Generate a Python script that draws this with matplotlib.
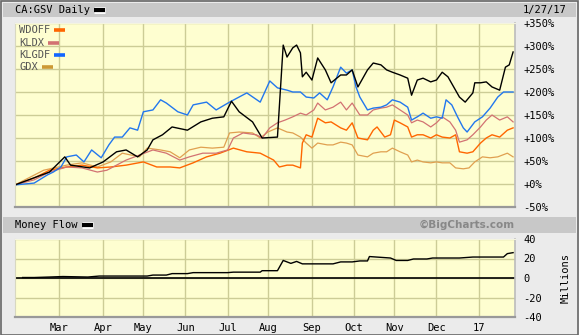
import matplotlib
matplotlib.use('Agg')
import matplotlib.pyplot as plt
import matplotlib.patheffects as pe
import pandas as pd
from matplotlib.lines import Line2D
from matplotlib.patches import Rectangle

# trading sessions shown on the chart
sessions = pd.bdate_range('2016-01-28', '2017-01-27')

# CA:GSV (main symbol), % change
gsv_day = [0, 18, 26, 29, 39, 46, 53, 58, 64, 69, 72, 77, 82, 90, 97, 103, 109, 113, 117, 124,
           129, 137, 140, 142, 145, 147, 149, 150, 152, 155, 158, 162, 165, 170, 173, 176, 179,
           184, 187, 191, 194, 197, 201, 205, 207, 210, 213, 217, 220, 223, 226, 229, 232, 235,
           239, 240, 243, 246, 249, 253, 256, 258, 260]
gsv_pct = [-2, 26, 59, 41, 35, 48, 70, 74, 59, 74, 96, 107, 124, 117, 135, 143, 146, 180, 157, 135,
           100, 102, 302, 276, 296, 302, 285, 233, 243, 226, 274, 248, 220, 237, 237, 248, 211,
           248, 263, 259, 248, 243, 237, 230, 193, 226, 230, 222, 226, 243, 233, 211, 189, 178,
           198, 220, 220, 222, 211, 204, 254, 259, 287]

klgdf_day = [0, 10, 17, 20, 24, 27, 32, 36, 40, 45, 49, 52, 56, 60, 64, 67, 72, 76, 79, 85, 90, 93,
             100, 105, 112, 121, 128, 133, 137, 142, 145, 149, 152, 156, 159, 163, 166, 170, 173,
             176, 178, 180, 184, 187, 191, 194, 197, 201, 205, 207, 210, 213, 217, 220, 223, 225,
             228, 231, 234, 236, 240, 244, 248, 252, 255, 260]
klgdf_pct = [-2, 2, 20, 26, 37, 59, 63, 48, 74, 57, 85, 102, 102, 122, 117, 157, 161, 183, 176, 157,
             150, 172, 178, 161, 178, 198, 178, 224, 209, 204, 200, 200, 189, 187, 198, 183, 211,
             254, 241, 248, 211, 189, 161, 165, 167, 172, 183, 178, 167, 139, 146, 154, 143, 146,
             143, 183, 172, 146, 122, 113, 135, 146, 165, 189, 200, 200]

kldx_day = [0, 10, 18, 27, 35, 43, 48, 53, 58, 65, 72, 79, 86, 91, 98, 105, 111, 114, 119, 126,
            129, 133, 137, 141, 145, 149, 152, 156, 158, 162, 166, 170, 173, 176, 180, 184, 187,
            191, 194, 197, 201, 205, 207, 210, 213, 217, 220, 223, 227, 230, 232, 236, 239, 243,
            246, 249, 253, 257, 260]
kldx_pct = [-2, 9, 26, 37, 35, 26, 30, 41, 52, 63, 74, 67, 52, 59, 67, 67, 74, 100, 111, 107,
            100, 122, 133, 139, 146, 154, 150, 161, 176, 161, 167, 178, 161, 176, 150, 150, 161,
            165, 167, 172, 161, 150, 133, 139, 135, 124, 133, 146, 135, 117, 91, 96, 107, 124,
            139, 150, 139, 146, 135]

wdoff_day = [0, 10, 18, 27, 35, 43, 50, 58, 67, 74, 81, 86, 93, 100, 107, 114, 121, 128, 135, 138,
             142, 145, 149, 150, 152, 155, 158, 162, 165, 170, 173, 176, 179, 184, 187, 189, 193,
             196, 198, 201, 205, 207, 210, 213, 217, 220, 223, 227, 230, 232, 236, 239, 243, 246,
             249, 253, 257, 260]
wdoff_pct = [-2, 13, 30, 37, 41, 35, 37, 41, 48, 37, 37, 35, 46, 59, 67, 78, 70, 67, 52, 37,
             41, 41, 35, 89, 107, 102, 143, 133, 135, 122, 117, 133, 100, 96, 117, 124, 102,
             107, 139, 133, 124, 102, 107, 107, 100, 107, 102, 100, 107, 70, 67, 70, 89, 100,
             107, 102, 117, 122]

gdx_day = [0, 15, 27, 35, 43, 50, 56, 65, 69, 76, 81, 86, 91, 97, 103, 109, 112, 117, 124, 128,
           132, 137, 142, 145, 149, 152, 155, 158, 163, 166, 170, 173, 176, 179, 184, 187, 191,
           194, 197, 201, 205, 207, 210, 213, 217, 220, 223, 227, 230, 234, 237, 240, 244, 248,
           252, 257, 260]
gdx_pct = [-2, 30, 41, 46, 37, 48, 67, 59, 78, 74, 70, 57, 74, 80, 78, 80, 111, 113, 111, 100,
           113, 122, 113, 111, 102, 89, 78, 89, 85, 85, 91, 89, 85, 63, 59, 67, 70,
           70, 78, 70, 63, 48, 52, 48, 46, 48, 46, 46, 35, 33, 35, 48, 59, 57,
           59, 67, 59]

# money flow, millions
mf_day = [4, 10, 18, 25, 38, 44, 69, 72, 79, 82, 90, 93, 111, 114, 128, 129, 137, 140, 144, 147,
          150, 166, 170, 176, 180, 184, 185, 196, 199, 205, 208, 215, 218, 232, 239, 255, 257, 260]
mf_val = [0.5, 0.5, 1, 1.5, 1, 2, 2, 3, 3, 4.5, 4.5, 5.5, 5.5, 6, 6, 7.5, 7.5, 18, 15, 17,
          14.5, 14.5, 16.5, 16.5, 17.5, 17.5, 22, 20.5, 18, 18, 19.5, 19.5, 20.5, 20.5, 21.5, 21.5,
          25, 26]

legend_names = ['WDOFF', 'KLDX', 'KLGDF', 'GDX']
legend_colors = ['#ff6600', '#d27272', '#1166ff', '#cc9933']

W, H = 579, 335
MONO = 'DejaVu Sans Mono'
PLOT_BG = '#fefed0'
GRID = '#cccc96'


def fbox(x0, y0, x1, y1):
    return [x0 / W, 1 - y1 / H, (x1 - x0) / W, (y1 - y0) / H]


fig = plt.figure(figsize=(W / 100, H / 100), dpi=100)
fig.patch.set_facecolor('#ebebeb')

# header bars
fig.add_artist(Rectangle((3 / W, 1 - 17 / H), 573 / W, 14 / H, transform=fig.transFigure,
                         facecolor='#c8c8c8', edgecolor='none'))
fig.add_artist(Rectangle((3 / W, 1 - 233 / H), 573 / W, 16 / H, transform=fig.transFigure,
                         facecolor='#c8c8c8', edgecolor='none'))
fig.add_artist(Rectangle((0.5 / W, 0.5 / H), (W - 1.5) / W, (H - 1.5) / H, transform=fig.transFigure,
                         facecolor='none', edgecolor='#666666', linewidth=1.2))

# month positions (first session of each month, the partial first month skipped)
month_idx = [i for i in range(10, len(sessions)) if sessions[i].month != sessions[i - 1].month]
month_lbl = ['17' if sessions[i].month == 1 else sessions[i].strftime('%b') for i in month_idx]

ax = fig.add_axes(fbox(15, 23, 515, 207))
ax2 = fig.add_axes(fbox(15, 239, 515, 317))

for a in (ax, ax2):
    a.set_facecolor(PLOT_BG)
    a.set_xlim(0, len(sessions) - 1)
    a.set_xticks(month_idx)
    a.grid(True, color=GRID, linewidth=1)
    a.set_axisbelow(True)
    a.yaxis.tick_right()
    a.tick_params(length=0, labelsize=7.5, pad=6)
    for lab in a.get_yticklabels() + a.get_xticklabels():
        lab.set_family(MONO)
    a.spines['top'].set_color('#f4f4e0')
    a.spines['left'].set_color('#d8d8c0')
    a.spines['bottom'].set_color('#999999')
    a.spines['right'].set_color('#bbbbbb')
    a.spines['bottom'].set_linewidth(1.6)
    a.spines['right'].set_linewidth(1.2)

ax.set_ylim(-50, 350)
ax.set_yticks(range(-50, 351, 50))
ax.set_yticklabels(['-50%' if v < 0 else '+%d%%' % v for v in range(-50, 351, 50)],
                   family=MONO, size=7.5)
ax.set_xticklabels([])

ax.plot(gdx_day, gdx_pct, color='#e0a050', linewidth=0.9)
ax.plot(wdoff_day, wdoff_pct, color=legend_colors[0], linewidth=1.0)
ax.plot(kldx_day, kldx_pct, color=legend_colors[1], linewidth=0.9)
ax.plot(klgdf_day, klgdf_pct, color='#2277ee', linewidth=1.0)
ax.plot(gsv_day, gsv_pct, color='black', linewidth=1.0)

ax2.set_ylim(-40, 40)
ax2.set_yticks(range(-40, 41, 20))
ax2.set_yticklabels([str(v) for v in range(-40, 41, 20)], family=MONO, size=7.5)
ax2.set_xticklabels(month_lbl, family=MONO, size=7.5)
ax2.tick_params(axis='x', pad=4)
ax2.axhline(0, color='black', linewidth=1.2)
ax2.plot(mf_day, mf_val, color='black', linewidth=1.0)

# texts
t_head = fig.text(15 / W, 1 - 10 / H, 'CA:GSV Daily', family=MONO, size=7.5, va='center')
fig.text(566 / W, 1 - 10 / H, '1/27/17', family=MONO, size=7.5, va='center', ha='right')
t_mf = fig.text(15 / W, 1 - 225 / H, 'Money Flow', family=MONO, size=7.5, va='center')
fig.text(515 / W, 1 - 225 / H, '\u00a9BigCharts.com', family='DejaVu Sans', size=7.5,
         weight='bold', color='#888888', va='center', ha='right')
fig.text(566 / W, 1 - 278 / H, 'Millions', family=MONO, size=7.5, rotation=90,
         va='center', ha='center')

leg_texts = []
for k, name in enumerate(legend_names):
    yy = [30, 43, 55, 67][k]
    leg_texts.append(fig.text(19 / W, 1 - yy / H, name, family=MONO, size=7.5,
                              color='#555555', va='center'))

fig.canvas.draw()


def dash_after(t, color, length, lw, outline=False):
    bb = t.get_window_extent()
    x0 = bb.x1 + 4
    yc = (bb.y0 + bb.y1) / 2
    ln = Line2D([x0 / W, (x0 + length) / W], [yc / H, yc / H], transform=fig.transFigure,
                color=color, linewidth=lw, solid_capstyle='butt')
    if outline:
        ln.set_path_effects([pe.Stroke(linewidth=lw + 2, foreground='white'), pe.Normal()])
    fig.add_artist(ln)


dash_after(t_head, 'black', 11, 3, outline=True)
dash_after(t_mf, 'black', 11, 3, outline=True)
for t, c in zip(leg_texts, legend_colors):
    dash_after(t, c, 11, 2.6)

fig.savefig('out.png', dpi=100, facecolor=fig.get_facecolor())
